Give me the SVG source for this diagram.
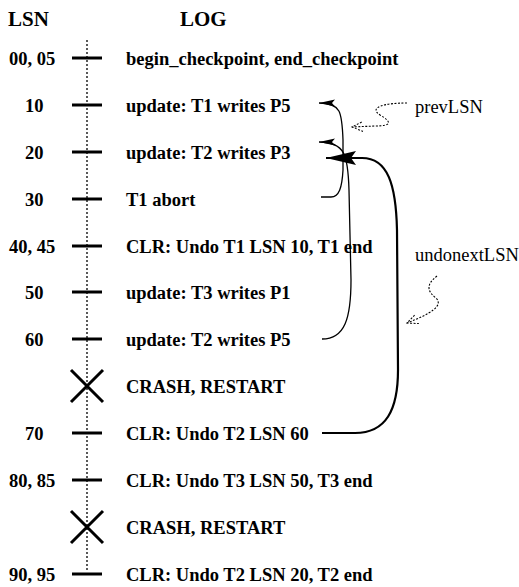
<svg xmlns="http://www.w3.org/2000/svg" width="519" height="587" viewBox="0 0 519 587">
<style>
.h{font-family:"Liberation Serif","Times New Roman",serif;font-weight:bold;font-size:21px;fill:#000}
.l{font-family:"Liberation Serif","Times New Roman",serif;font-weight:bold;font-size:18.5px;fill:#000}
.a{font-family:"Liberation Serif","Times New Roman",serif;font-size:18.5px;fill:#000}
.tick{stroke:#000;stroke-width:3}
.x{stroke:#000;stroke-width:3;fill:none}
.axis{stroke:#000;stroke-width:1.3;stroke-dasharray:2 2}
.thin{stroke:#000;stroke-width:1.3;fill:none;marker-end:url(#ah)}
.thick{stroke:#000;stroke-width:2.2;fill:none;marker-end:url(#ahb)}
.dot{stroke:#000;stroke-width:1.1;fill:none;stroke-dasharray:2 1.5;marker-end:url(#aho)}
</style>
<defs>
<marker id="ah" markerUnits="userSpaceOnUse" markerWidth="18" markerHeight="8" refX="16" refY="3.5" orient="auto"><path d="M0,0 L16,3.5 L0,7 L3,3.5 z" fill="#000"/></marker>
<marker id="ahb" markerUnits="userSpaceOnUse" markerWidth="32" markerHeight="16" refX="30" refY="7" orient="auto"><path d="M0,0 L30,7 L0,14 L5,7 z" fill="#000"/></marker>
<marker id="aho" markerUnits="userSpaceOnUse" markerWidth="14" markerHeight="12" refX="12" refY="5" orient="auto"><path d="M1,0 L12,5 L1,10" fill="none" stroke="#000" stroke-width="1" stroke-dasharray="2 1.5"/></marker>
</defs>
<g id="headers">
<text class="h" x="8" y="25.5">LSN</text>
<text class="h" x="180" y="25.5">LOG</text>
</g>
<line id="axis" class="axis" x1="87" y1="40" x2="87" y2="572"/>
<g id="r0005"><line class="tick" x1="72" y1="58" x2="102" y2="58"/><text class="l" x="9" y="65">00, 05</text><text class="l" x="126" y="65">begin_checkpoint, end_checkpoint</text></g>
<g id="r10"><line class="tick" x1="72" y1="105" x2="102" y2="105"/><text class="l" x="25" y="112">10</text><text class="l" x="126" y="112">update: T1 writes P5</text></g>
<g id="r20"><line class="tick" x1="72" y1="152" x2="102" y2="152"/><text class="l" x="25" y="159">20</text><text class="l" x="126" y="159">update: T2 writes P3</text></g>
<g id="r30"><line class="tick" x1="72" y1="199" x2="102" y2="199"/><text class="l" x="25" y="206">30</text><text class="l" x="126" y="206">T1 abort</text></g>
<g id="r4045"><line class="tick" x1="72" y1="246" x2="102" y2="246"/><text class="l" x="9" y="253">40, 45</text><text class="l" x="126" y="253">CLR: Undo T1 LSN 10, T1 end</text></g>
<g id="r50"><line class="tick" x1="72" y1="292" x2="102" y2="292"/><text class="l" x="25" y="299">50</text><text class="l" x="126" y="299">update: T3 writes P1</text></g>
<g id="r60"><line class="tick" x1="72" y1="339" x2="102" y2="339"/><text class="l" x="25" y="346">60</text><text class="l" x="126" y="346">update: T2 writes P5</text></g>
<g id="crash1"><path class="x" d="M71,370 L103,402 M103,370 L71,402"/><text class="l" x="126" y="393">CRASH, RESTART</text></g>
<g id="r70"><line class="tick" x1="72" y1="433" x2="102" y2="433"/><text class="l" x="25" y="440">70</text><text class="l" x="126" y="440">CLR: Undo T2 LSN 60</text></g>
<g id="r8085"><line class="tick" x1="72" y1="480" x2="102" y2="480"/><text class="l" x="9" y="487">80, 85</text><text class="l" x="126" y="487">CLR: Undo T3 LSN 50, T3 end</text></g>
<g id="crash2"><path class="x" d="M71,511 L103,543 M103,511 L71,543"/><text class="l" x="126" y="534">CRASH, RESTART</text></g>
<g id="r9095"><line class="tick" x1="72" y1="574" x2="102" y2="574"/><text class="l" x="9" y="581">90, 95</text><text class="l" x="126" y="581">CLR: Undo T2 LSN 20, T2 end</text></g>
<g id="connectors">
<path class="thin" d="M321,197 L331,197 C339,197 342,188 343,170 L343,140 C342,112 341,103 319,103"/>
<path class="thin" d="M322,339 C345,339 351,318 351,280 L349,190 C348,155 345,142 319,142"/>
<path class="thick" d="M322,433 L355,433 C386,433 398,410 398,370 L397,230 C396,185 388,158 362,158 L326,158"/>
<path class="dot" d="M407,103 C385,103 368,107 380,115 C392,122 392,126 375,126 L352,127"/>
<path class="dot" d="M437,276 C425,285 428,292 436,298 C444,306 430,314 407,323"/>
</g>
<g id="labels">
<text class="a" x="415" y="113">prevLSN</text>
<text class="a" x="415" y="261">undonextLSN</text>
</g>
</svg>
